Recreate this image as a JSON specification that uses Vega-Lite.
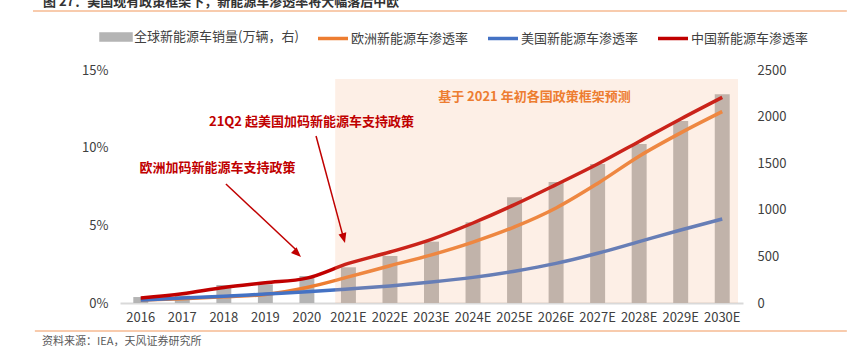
{
  "$schema": "https://vega.github.io/schema/vega-lite/v6.json",
  "width": 623,
  "height": 233,
  "autosize": {"type": "none"},
  "padding": {"left": 120, "top": 70, "right": 104, "bottom": 53},
  "background": "white",
  "config": {
    "font": "Noto Sans CJK SC",
    "view": {"stroke": null},
    "axis": {"labelFont": "Noto Sans CJK SC", "labelFontSize": 13, "labelColor": "#404040", "grid": false, "ticks": false, "domain": false, "title": null}
  },
  "datasets": {
    "main": [
      {"year": "2016", "series": "全球新能源车销量(万辆，右)", "value": 64},
      {"year": "2017", "series": "全球新能源车销量(万辆，右)", "value": 80},
      {"year": "2018", "series": "全球新能源车销量(万辆，右)", "value": 193},
      {"year": "2019", "series": "全球新能源车销量(万辆，右)", "value": 200},
      {"year": "2020", "series": "全球新能源车销量(万辆，右)", "value": 290},
      {"year": "2021E", "series": "全球新能源车销量(万辆，右)", "value": 383},
      {"year": "2022E", "series": "全球新能源车销量(万辆，右)", "value": 504},
      {"year": "2023E", "series": "全球新能源车销量(万辆，右)", "value": 658},
      {"year": "2024E", "series": "全球新能源车销量(万辆，右)", "value": 866},
      {"year": "2025E", "series": "全球新能源车销量(万辆，右)", "value": 1134},
      {"year": "2026E", "series": "全球新能源车销量(万辆，右)", "value": 1298},
      {"year": "2027E", "series": "全球新能源车销量(万辆，右)", "value": 1491},
      {"year": "2028E", "series": "全球新能源车销量(万辆，右)", "value": 1706},
      {"year": "2029E", "series": "全球新能源车销量(万辆，右)", "value": 1953},
      {"year": "2030E", "series": "全球新能源车销量(万辆，右)", "value": 2239},
      {"year": "2016", "series": "欧洲新能源车渗透率", "value": 0.2},
      {"year": "2017", "series": "欧洲新能源车渗透率", "value": 0.28},
      {"year": "2018", "series": "欧洲新能源车渗透率", "value": 0.4},
      {"year": "2019", "series": "欧洲新能源车渗透率", "value": 0.55},
      {"year": "2020", "series": "欧洲新能源车渗透率", "value": 1.0},
      {"year": "2021E", "series": "欧洲新能源车渗透率", "value": 1.68},
      {"year": "2022E", "series": "欧洲新能源车渗透率", "value": 2.4},
      {"year": "2023E", "series": "欧洲新能源车渗透率", "value": 3.1},
      {"year": "2024E", "series": "欧洲新能源车渗透率", "value": 3.92},
      {"year": "2025E", "series": "欧洲新能源车渗透率", "value": 4.9},
      {"year": "2026E", "series": "欧洲新能源车渗透率", "value": 6.12},
      {"year": "2027E", "series": "欧洲新能源车渗透率", "value": 7.7},
      {"year": "2028E", "series": "欧洲新能源车渗透率", "value": 9.45},
      {"year": "2029E", "series": "欧洲新能源车渗透率", "value": 10.95},
      {"year": "2030E", "series": "欧洲新能源车渗透率", "value": 12.32},
      {"year": "2016", "series": "美国新能源车渗透率", "value": 0.19},
      {"year": "2017", "series": "美国新能源车渗透率", "value": 0.32},
      {"year": "2018", "series": "美国新能源车渗透率", "value": 0.43},
      {"year": "2019", "series": "美国新能源车渗透率", "value": 0.58},
      {"year": "2020", "series": "美国新能源车渗透率", "value": 0.72},
      {"year": "2021E", "series": "美国新能源车渗透率", "value": 0.9},
      {"year": "2022E", "series": "美国新能源车渗透率", "value": 1.1},
      {"year": "2023E", "series": "美国新能源车渗透率", "value": 1.35},
      {"year": "2024E", "series": "美国新能源车渗透率", "value": 1.65},
      {"year": "2025E", "series": "美国新能源车渗透率", "value": 2.05},
      {"year": "2026E", "series": "美国新能源车渗透率", "value": 2.55},
      {"year": "2027E", "series": "美国新能源车渗透率", "value": 3.2},
      {"year": "2028E", "series": "美国新能源车渗透率", "value": 3.95},
      {"year": "2029E", "series": "美国新能源车渗透率", "value": 4.7},
      {"year": "2030E", "series": "美国新能源车渗透率", "value": 5.41},
      {"year": "2016", "series": "中国新能源车渗透率", "value": 0.32},
      {"year": "2017", "series": "中国新能源车渗透率", "value": 0.6},
      {"year": "2018", "series": "中国新能源车渗透率", "value": 1.0},
      {"year": "2019", "series": "中国新能源车渗透率", "value": 1.3},
      {"year": "2020", "series": "中国新能源车渗透率", "value": 1.6},
      {"year": "2021E", "series": "中国新能源车渗透率", "value": 2.55},
      {"year": "2022E", "series": "中国新能源车渗透率", "value": 3.28},
      {"year": "2023E", "series": "中国新能源车渗透率", "value": 4.1},
      {"year": "2024E", "series": "中国新能源车渗透率", "value": 5.15},
      {"year": "2025E", "series": "中国新能源车渗透率", "value": 6.33},
      {"year": "2026E", "series": "中国新能源车渗透率", "value": 7.62},
      {"year": "2027E", "series": "中国新能源车渗透率", "value": 8.95},
      {"year": "2028E", "series": "中国新能源车渗透率", "value": 10.4},
      {"year": "2029E", "series": "中国新能源车渗透率", "value": 11.85},
      {"year": "2030E", "series": "中国新能源车渗透率", "value": 13.24}
    ]
  },
  "layer": [
    {
      "data": {"name": "main"},
      "layer": [
        {
          "transform": [{"filter": "datum.series === '全球新能源车销量(万辆，右)'"}],
          "mark": {"type": "bar", "width": {"band": 0.4}},
          "encoding": {
            "x": {"field": "year", "type": "ordinal", "sort": null,
                  "axis": {"orient": "bottom", "domain": true, "domainColor": "#d9d9d9", "domainWidth": 2, "ticks": false, "labelPadding": 8, "labelAngle": 0}},
            "y": {"field": "value", "type": "quantitative", "scale": {"domain": [0, 2500], "nice": false},
                  "axis": {"orient": "right", "values": [0, 500, 1000, 1500, 2000, 2500], "format": "d", "labelPadding": 14}},
            "color": {"field": "series", "type": "nominal",
              "scale": {"domain": ["全球新能源车销量(万辆，右)", "欧洲新能源车渗透率", "美国新能源车渗透率", "中国新能源车渗透率"],
                        "range": ["#b4b4b4", "#ed7d31", "#4472c4", "#c00000"]},
              "legend": {
                "orient": "none", "legendX": -21, "legendY": -50, "direction": "horizontal",
                "title": null, "padding": 0, "labelFont": "Noto Sans CJK SC", "labelFontSize": 13, "labelColor": "#404040",
                "symbolSize": 900, "symbolStrokeWidth": 3.5, "labelOffset": 1, "columnPadding": 12, "labelLimit": 300,
                "encode": {
                  "symbols": {"update": {
                    "shape": {"signal": "datum.value === '全球新能源车销量(万辆，右)' ? 'M-1,-0.2H1V0.2H-1Z' : 'M-1,0H1'"},
                    "fill": {"signal": "datum.value === '全球新能源车销量(万辆，右)' ? '#b4b4b4' : 'transparent'"},
                    "stroke": {"signal": "datum.value === '全球新能源车销量(万辆，右)' ? 'transparent' : datum.value === '欧洲新能源车渗透率' ? '#ed7d31' : datum.value === '美国新能源车渗透率' ? '#4472c4' : '#c00000'"},
                    "opacity": {"value": 1}
                  }}
                }
              }
            }
          }
        },
        {
          "transform": [{"filter": "datum.series !== '全球新能源车销量(万辆，右)'"}],
          "mark": {"type": "line", "interpolate": "monotone", "strokeWidth": 3.5},
          "encoding": {
            "x": {"field": "year", "type": "ordinal", "sort": null},
            "y": {"field": "value", "type": "quantitative", "scale": {"domain": [0, 15], "nice": false},
                  "axis": {"orient": "left", "values": [0, 5, 10, 15], "labelExpr": "datum.value + '%'", "labelPadding": 12}},
            "color": {"field": "series", "type": "nominal"}
          }
        }
      ],
      "resolve": {"scale": {"y": "independent"}}
    },
    {
      "data": {"values": [{}]},
      "layer": [
        {
          "mark": {"type": "rect", "fill": "#f4b183", "opacity": 0.2},
          "encoding": {
            "x": {"datum": 5.18, "type": "quantitative", "scale": {"domain": [0, 15], "nice": false, "zero": false}, "axis": null},
            "x2": {"datum": 14.88},
            "y": {"datum": 0, "type": "quantitative", "scale": {"domain": [0, 15], "nice": false, "zero": false}, "axis": null},
            "y2": {"datum": 14.42}
          }
        },
        {
          "mark": {"type": "rule", "stroke": "#f8cbad", "strokeWidth": 2},
          "encoding": {
            "x": {"datum": -2.095, "type": "quantitative", "scale": {"domain": [0, 15], "nice": false, "zero": false}, "axis": null},
            "x2": {"datum": 17.5},
            "y": {"datum": 18.8, "type": "quantitative", "scale": {"domain": [0, 15], "nice": false, "zero": false}, "axis": null}
          }
        },
        {
          "mark": {"type": "rule", "stroke": "#f8cbad", "strokeWidth": 2},
          "encoding": {
            "x": {"datum": -2.05, "type": "quantitative", "scale": {"domain": [0, 15], "nice": false, "zero": false}, "axis": null},
            "x2": {"datum": 17.5},
            "y": {"datum": -1.8, "type": "quantitative", "scale": {"domain": [0, 15], "nice": false, "zero": false}, "axis": null}
          }
        },
        {
          "mark": {"type": "text", "text": "图 27：美国现有政策框架下，新能源车渗透率将大幅落后中欧", "align": "left", "baseline": "alphabetic", "fontSize": 13, "fontWeight": "bold", "color": "#333333", "font": "Noto Sans CJK SC"},
          "encoding": {
            "x": {"datum": -1.854, "type": "quantitative", "scale": {"domain": [0, 15], "nice": false, "zero": false}, "axis": null},
            "y": {"datum": 19.15, "type": "quantitative", "scale": {"domain": [0, 15], "nice": false, "zero": false}, "axis": null}
          }
        },
        {
          "mark": {"type": "text", "text": "资料来源：IEA，天风证券研究所", "align": "left", "baseline": "middle", "fontSize": 11, "color": "#595959", "font": "Noto Sans CJK SC"},
          "encoding": {
            "x": {"datum": -1.878, "type": "quantitative", "scale": {"domain": [0, 15], "nice": false, "zero": false}, "axis": null},
            "y": {"datum": -2.5, "type": "quantitative", "scale": {"domain": [0, 15], "nice": false, "zero": false}, "axis": null}
          }
        },
        {
          "mark": {"type": "text", "text": "21Q2 起美国加码新能源车支持政策", "align": "center", "baseline": "middle", "fontSize": 13, "fontWeight": "bold", "color": "#c00000", "font": "Noto Sans CJK SC"},
          "encoding": {
            "x": {"datum": 4.61, "type": "quantitative", "scale": {"domain": [0, 15], "nice": false, "zero": false}, "axis": null},
            "y": {"datum": 11.65, "type": "quantitative", "scale": {"domain": [0, 15], "nice": false, "zero": false}, "axis": null}
          }
        },
        {
          "mark": {"type": "text", "text": "欧洲加码新能源车支持政策", "align": "center", "baseline": "middle", "fontSize": 13, "fontWeight": "bold", "color": "#c00000", "font": "Noto Sans CJK SC"},
          "encoding": {
            "x": {"datum": 2.35, "type": "quantitative", "scale": {"domain": [0, 15], "nice": false, "zero": false}, "axis": null},
            "y": {"datum": 8.69, "type": "quantitative", "scale": {"domain": [0, 15], "nice": false, "zero": false}, "axis": null}
          }
        },
        {
          "mark": {"type": "text", "text": "基于 2021 年初各国政策框架预测", "align": "left", "baseline": "middle", "fontSize": 13, "fontWeight": "bold", "color": "#ed7d31", "font": "Noto Sans CJK SC"},
          "encoding": {
            "x": {"datum": 7.66, "type": "quantitative", "scale": {"domain": [0, 15], "nice": false, "zero": false}, "axis": null},
            "y": {"datum": 13.26, "type": "quantitative", "scale": {"domain": [0, 15], "nice": false, "zero": false}, "axis": null}
          }
        },
        {
          "mark": {"type": "rule", "stroke": "#c00000", "strokeWidth": 1.5},
          "encoding": {
            "x": {"datum": 2.55, "type": "quantitative", "scale": {"domain": [0, 15], "nice": false, "zero": false}, "axis": null},
            "x2": {"datum": 4.25},
            "y": {"datum": 7.66, "type": "quantitative", "scale": {"domain": [0, 15], "nice": false, "zero": false}, "axis": null},
            "y2": {"datum": 3.4}
          }
        },
        {
          "mark": {"type": "point", "shape": "M0,0L-0.4,1L0.4,1Z", "filled": true, "color": "#c00000", "opacity": 1, "size": 400, "angle": 134},
          "encoding": {
            "x": {"datum": 4.358, "type": "quantitative", "scale": {"domain": [0, 15], "nice": false, "zero": false}, "axis": null},
            "y": {"datum": 2.96, "type": "quantitative", "scale": {"domain": [0, 15], "nice": false, "zero": false}, "axis": null}
          }
        },
        {
          "mark": {"type": "rule", "stroke": "#c00000", "strokeWidth": 1.5},
          "encoding": {
            "x": {"datum": 4.72, "type": "quantitative", "scale": {"domain": [0, 15], "nice": false, "zero": false}, "axis": null},
            "x2": {"datum": 5.36},
            "y": {"datum": 10.75, "type": "quantitative", "scale": {"domain": [0, 15], "nice": false, "zero": false}, "axis": null},
            "y2": {"datum": 4.4}
          }
        },
        {
          "mark": {"type": "point", "shape": "M0,0L-0.4,1L0.4,1Z", "filled": true, "color": "#c00000", "opacity": 1, "size": 400, "angle": 165},
          "encoding": {
            "x": {"datum": 5.417, "type": "quantitative", "scale": {"domain": [0, 15], "nice": false, "zero": false}, "axis": null},
            "y": {"datum": 3.86, "type": "quantitative", "scale": {"domain": [0, 15], "nice": false, "zero": false}, "axis": null}
          }
        }
      ]
    }
  ],
  "resolve": {"scale": {"x": "independent", "y": "independent"}}
}
